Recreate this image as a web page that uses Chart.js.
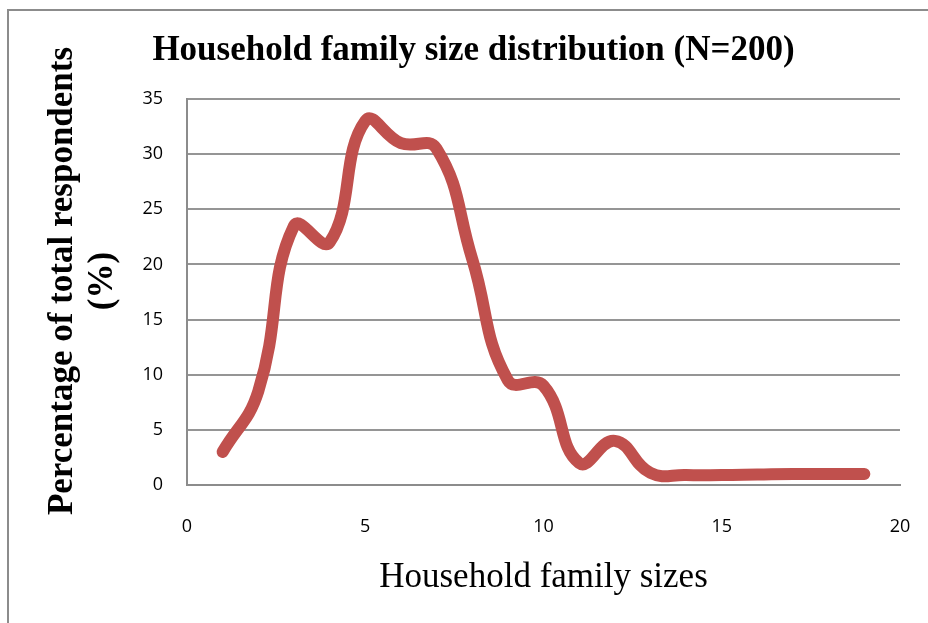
<!DOCTYPE html>
<html>
<head>
<meta charset="utf-8">
<title>Household family size distribution</title>
<script src="https://cdn.jsdelivr.net/npm/chart.js@4.4.1/dist/chart.umd.min.js"></script>
<style>
  html, body { margin: 0; padding: 0; background: #ffffff; overflow: hidden; }
  #wrap { position: relative; width: 928px; height: 623px; }
  #frame {
    position: absolute; left: 7px; top: 9px; width: 1000px; height: 1000px;
    border-left: 2px solid #8c8c8c; border-top: 2px solid #8c8c8c;
  }
  #chart { position: absolute; left: 0; top: 0; }
</style>
</head>
<body>
<div id="wrap">
  <div id="frame"></div>
  <canvas id="chart" width="928" height="623"></canvas>
</div>
<script>
// Household size (number of members) and share of respondents (%)
const familySize = [1, 2, 3, 4, 5, 6, 7, 8, 9, 10, 11, 12, 13, 14, 15, 16, 17, 18, 19];
const percentRespondents = [3, 8.5, 23.5, 22, 33, 31, 30.5, 20.5, 9.5, 9, 2, 4, 1.1, 0.9, 0.9, 0.95, 1, 1, 1];

const xTicks = [0, 5, 10, 15, 20];
const yTicks = [0, 5, 10, 15, 20, 25, 30, 35];

const chartTitle = 'Household family size distribution (N=200)';
const yTitleLines = ['Percentage of total respondents', '(%)'];
const xTitle = 'Household family sizes';

const serif = '"Liberation Serif", "Times New Roman", serif';
const sans = '"Open Sans", "Liberation Sans", sans-serif';
const gridGrey = '#959595';

// Main heading and the two-line rotated y-axis caption
const captionPlugin = {
  id: 'captions',
  afterDraw(chart) {
    const ctx = chart.ctx;
    const area = chart.chartArea;
    ctx.save();
    ctx.fillStyle = '#000000';
    ctx.font = 'bold 35px ' + serif;
    ctx.textAlign = 'center';
    ctx.textBaseline = 'alphabetic';
    ctx.fillText(chartTitle, 473.5, 60);

    const midY = (area.top + area.bottom) / 2 - 11;
    const baselines = [72, 112];
    yTitleLines.forEach((line, i) => {
      ctx.save();
      ctx.translate(baselines[i], midY);
      ctx.rotate(-Math.PI / 2);
      ctx.fillText(line, 0, 0);
      ctx.restore();
    });
    ctx.restore();
  }
};

const points = familySize.map((x, i) => ({ x: x, y: percentRespondents[i] }));

new Chart(document.getElementById('chart'), {
  type: 'line',
  data: {
    datasets: [{
      data: points,
      borderColor: '#C0504D',
      backgroundColor: '#C0504D',
      borderWidth: 12,
      borderCapStyle: 'round',
      borderJoinStyle: 'round',
      pointRadius: 0,
      pointHoverRadius: 0,
      tension: 0.45,
      fill: false
    }]
  },
  options: {
    responsive: false,
    animation: false,
    devicePixelRatio: 1,
    layout: { padding: { top: 99, right: 28, bottom: 0, left: 0 } },
    plugins: {
      legend: { display: false },
      title: { display: false },
      tooltip: { enabled: false }
    },
    scales: {
      x: {
        type: 'linear',
        min: 0,
        max: 20,
        afterFit(scale) {
          scale.height = 138;
          scale.paddingLeft = 0;
          scale.paddingRight = 0;
        },
        afterBuildTicks(scale) { scale.ticks = xTicks.map(v => ({ value: v })); },
        grid: { display: false, drawTicks: false },
        border: { display: true, color: '#8c8c8c', width: 2 },
        ticks: {
          padding: 31,
          color: '#000000',
          font: { family: sans, size: 18 },
          maxRotation: 0
        },
        title: {
          display: true,
          text: xTitle,
          color: '#000000',
          font: { family: serif, size: 35, lineHeight: 1.2 },
          padding: { top: 0, bottom: 24 }
        }
      },
      y: {
        type: 'linear',
        min: 0,
        max: 35,
        afterFit(scale) {
          scale.width = 187;
          scale.paddingTop = 0;
          scale.paddingBottom = 0;
        },
        afterBuildTicks(scale) { scale.ticks = yTicks.map(v => ({ value: v })); },
        grid: { color: gridGrey, lineWidth: 2, drawTicks: false },
        border: { display: true, color: '#8c8c8c', width: 2 },
        ticks: {
          padding: 24,
          color: '#000000',
          font: { family: sans, size: 18 }
        }
      }
    }
  },
  plugins: [captionPlugin]
});
</script>
</body>
</html>
